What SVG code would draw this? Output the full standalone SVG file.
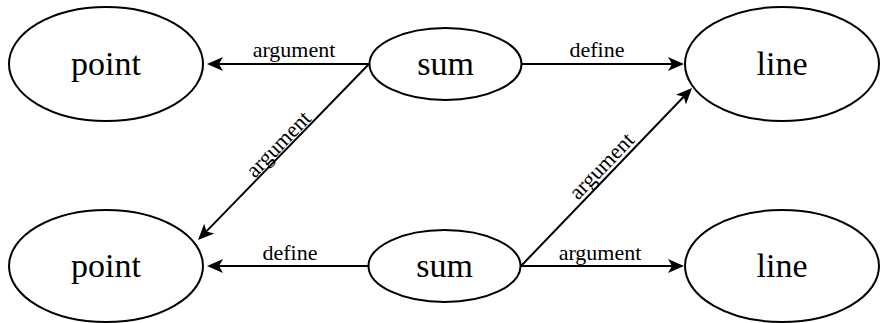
<svg xmlns="http://www.w3.org/2000/svg" width="886" height="323" viewBox="0 0 886 323">
<style>
.node ellipse{fill:#fff;stroke:#000;stroke-width:2}
.node text{font-family:"Liberation Serif",serif;font-size:34px;text-anchor:middle;fill:#000}
.edge line{stroke:#000;stroke-width:2;marker-end:url(#arr)}
.lbl{font-family:"Liberation Serif",serif;font-size:22px;text-anchor:middle;fill:#000}
</style>
<defs>
<marker id="arr" markerUnits="userSpaceOnUse" markerWidth="20" markerHeight="20" viewBox="-2 -10 20 20" refX="4" refY="0" orient="auto">
<path d="M0,-7 L16,0 L0,7 L4,0 Z" fill="#000"/>
</marker>
</defs>
<g id="edges">
<g class="edge"><line x1="369" y1="64" x2="219" y2="64"/><text class="lbl" x="294" y="57">argument</text></g>
<g class="edge"><line x1="369" y1="64" x2="206.4" y2="231.4"/><text class="lbl" transform="translate(283.5,152) rotate(-45.8)" x="2" y="-2">argument</text></g>
<g class="edge"><line x1="522" y1="64" x2="672" y2="64"/><text class="lbl" x="597" y="57">define</text></g>
<g class="edge"><line x1="368" y1="266" x2="219" y2="266"/><text class="lbl" x="290" y="260">define</text></g>
<g class="edge"><line x1="521" y1="266" x2="683.7" y2="96.7"/><text class="lbl" transform="translate(606.5,177) rotate(-46.1)" x="4.5" y="-4">argument</text></g>
<g class="edge"><line x1="521" y1="266" x2="672" y2="266"/><text class="lbl" x="600" y="260">argument</text></g>
</g>
<g id="point1" class="node"><ellipse cx="106" cy="64" rx="97" ry="57"/><text x="106" y="75">point</text></g>
<g id="sum1" class="node"><ellipse cx="445.5" cy="64" rx="76" ry="36"/><text x="445.5" y="75">sum</text></g>
<g id="line1" class="node"><ellipse cx="782" cy="64" rx="97" ry="57"/><text x="782" y="75">line</text></g>
<g id="point2" class="node"><ellipse cx="106" cy="266" rx="97" ry="56"/><text x="106" y="277">point</text></g>
<g id="sum2" class="node"><ellipse cx="444.5" cy="266" rx="76" ry="36"/><text x="444.5" y="277">sum</text></g>
<g id="line2" class="node"><ellipse cx="782" cy="266" rx="97" ry="56"/><text x="782" y="277">line</text></g>
</svg>
